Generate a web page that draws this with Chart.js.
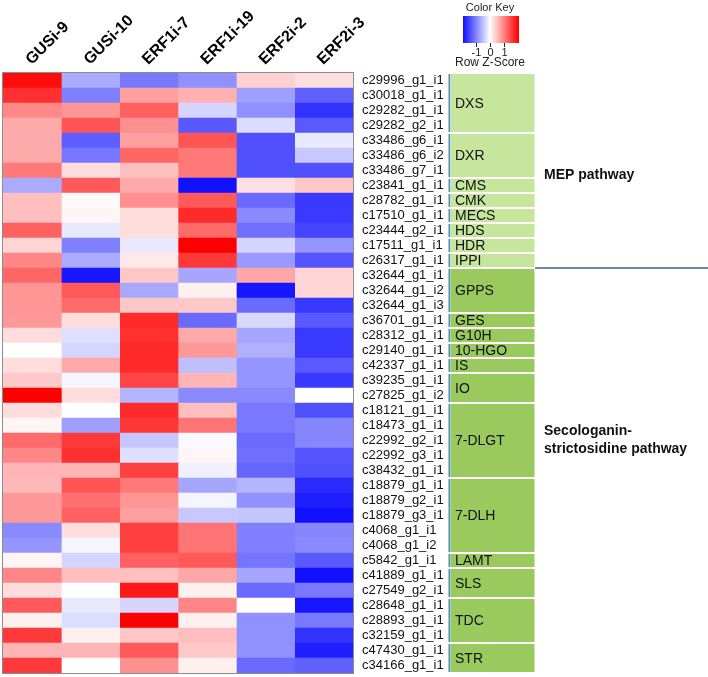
<!DOCTYPE html>
<html>
<head>
<meta charset="utf-8">
<script src="https://cdn.jsdelivr.net/npm/chart.js@4.4.1/dist/chart.umd.min.js"></script>
<style>
  body { margin: 0; background: #fff; }
</style>
</head>
<body>
<canvas id="heat" width="708" height="677"></canvas>
<script>
// columns (samples) and rows (transcripts)
const samples = ["GUSi-9", "GUSi-10", "ERF1i-7", "ERF1i-19", "ERF2i-2", "ERF2i-3"];
const genes = [
  "c29996_g1_i1", "c30018_g1_i1", "c29282_g1_i1", "c29282_g2_i1", "c33486_g6_i1",
  "c33486_g6_i2", "c33486_g7_i1", "c23841_g1_i1", "c28782_g1_i1", "c17510_g1_i1",
  "c23444_g2_i1", "c17511_g1_i1", "c26317_g1_i1", "c32644_g1_i1", "c32644_g1_i2",
  "c32644_g1_i3", "c36701_g1_i1", "c28312_g1_i1", "c29140_g1_i1", "c42337_g1_i1",
  "c39235_g1_i1", "c27825_g1_i2", "c18121_g1_i1", "c18473_g1_i1", "c22992_g2_i1",
  "c22992_g3_i1", "c38432_g1_i1", "c18879_g1_i1", "c18879_g2_i1", "c18879_g3_i1",
  "c4068_g1_i1", "c4068_g1_i2", "c5842_g1_i1", "c41889_g1_i1", "c27549_g2_i1",
  "c28648_g1_i1", "c28893_g1_i1", "c32159_g1_i1", "c47430_g1_i1", "c34166_g1_i1"
];

// row z-scores, one array per sample
const gusi9 = [1.9, 1.62, 0.93, 0.67, 0.67, 0.67, 1.05, -0.67, 0.5, 0.5, 1.25, 0.33, 0.95, 1.2, 0.83, 0.83, 0.8, 0.27, 0.0, 0.27,
  0.42, 2.0, 0.27, 0.08, 1.17, 0.95, 0.58, 0.55, 0.8, 0.8, -0.92, -0.83, 0.08, 0.95, 0.27, 1.3, 0.12, 1.55, 0.58, 1.55];
const gusi10 = [-0.67, -1.0, 0.83, 1.33, -1.26, -1.07, 0.27, 1.3, 0.05, 0.08, -0.18, -1.0, -0.67, -1.83, 1.3, 1.17, 0.27, -0.25, -0.33, 0.67,
  -0.08, 0.27, 0.0, -0.75, 1.55, 1.62, 0.58, 1.33, 1.12, 1.25, 0.27, -0.08, -0.33, 0.5, 0.0, -0.18, -0.27, 0.12, 0.58, 0.0];
const erf1i7 = [-1.05, 0.75, 1.25, 0.87, 0.75, 1.2, 0.5, 0.67, 0.87, 0.27, 0.27, -0.18, 0.18, 0.45, -0.68, 0.43, 1.67, 1.62, 1.67, 1.67,
  1.46, -0.58, 1.67, 1.58, -0.45, -0.25, 1.5, 1.05, 0.83, 0.75, 1.5, 1.5, 1.25, 0.5, 1.8, -0.33, 2.0, 0.45, 1.3, 0.87];
const erf1i19 = [-0.87, 0.62, -0.33, -1.3, 1.33, 1.05, 1.05, -1.87, 1.3, 1.67, 1.17, 2.0, 1.55, -0.7, 0.12, 0.43, -1.17, 0.67, 0.8, -0.5,
  0.58, -0.92, 0.5, 1.08, -0.05, 0.08, -0.12, -0.7, -0.08, -0.43, 1.08, 1.08, 1.3, 0.7, 0.12, 0.95, 0.12, 0.5, 0.42, 0.12];
const erf2i2 = [0.37, -0.75, -0.87, -0.27, -1.37, -1.37, -1.37, 0.25, -1.17, -0.92, -1.12, -0.33, -0.8, 0.7, -1.83, -1.17, -0.3, -0.7, -0.62, -0.83,
  -0.83, -0.92, -1.05, -1.05, -1.17, -1.12, -1.2, -0.58, -0.87, -0.45, -1.0, -1.0, -1.08, -0.7, -1.17, 0.0, -0.87, -0.87, -0.87, -1.17];
const erf2i3 = [0.26, -1.25, -1.6, -1.3, -0.18, -0.43, -1.37, 0.45, -1.55, -1.55, -1.46, -0.83, -1.33, 0.33, 0.33, -1.55, -1.3, -1.55, -1.55, -1.3,
  -1.55, 0.0, -1.37, -0.95, -0.95, -1.33, -1.37, -1.67, -1.75, -1.87, -0.95, -0.92, -1.3, -1.87, -1.05, -1.83, -1.05, -1.6, -1.75, -1.25];
const zscores = [gusi9, gusi10, erf1i7, erf1i19, erf2i2, erf2i3];

// gene groups: [name, first row, last row]
const mepGroups = [["DXS", 0, 3], ["DXR", 4, 6], ["CMS", 7, 7], ["CMK", 8, 8], ["MECS", 9, 9],
  ["HDS", 10, 10], ["HDR", 11, 11], ["IPPI", 12, 12]];
const secoGroups = [["GPPS", 13, 15], ["GES", 16, 16], ["G10H", 17, 17], ["10-HGO", 18, 18], ["IS", 19, 19],
  ["IO", 20, 21], ["7-DLGT", 22, 26], ["7-DLH", 27, 31], ["LAMT", 32, 32], ["SLS", 33, 34],
  ["TDC", 35, 37], ["STR", 38, 39]];
const keyTicks = [-1, 0, 1];

const FONT = "'Liberation Sans', Arial, sans-serif";

// blue - white - red, saturating at +-2
function zColor(v) {
  let t = Math.max(-1, Math.min(1, v / 2));
  if (t >= 0) {
    const c = Math.round(255 * (1 - t));
    return `rgb(255,${c},${c})`;
  }
  const c = Math.round(255 * (1 + t));
  return `rgb(${c},${c},255)`;
}

const datasets = zscores.map((col, i) => ({
  label: samples[i],
  data: genes.map(() => 1),
  backgroundColor: col.map(zColor),
  borderWidth: 0,
  barPercentage: 1,
  categoryPercentage: 1
}));

// annotations: border, gene groups, pathway labels, colour key
const extras = {
  id: "extras",
  afterDraw(chart) {
    const ctx = chart.ctx;
    const a = chart.chartArea;
    const ys = chart.scales.y;
    ctx.save();

    ctx.strokeStyle = "#8c8c8c";
    ctx.lineWidth = 1;
    ctx.strokeRect(a.left - 0.5, a.top - 0.5, a.right - a.left + 1, a.bottom - a.top + 1);

    const drawGroups = (groups, fill) => {
      groups.forEach(g => {
        const top = ys.getPixelForValue(g[1]) - 7.5 + 1;
        const bot = ys.getPixelForValue(g[2]) + 7.5 - 1;
        ctx.fillStyle = "#4f8cc4";
        ctx.fillRect(448.5, top, 1.8, bot - top);
        ctx.fillStyle = fill;
        ctx.fillRect(450.5, top, 84, bot - top);
        ctx.fillStyle = "#111";
        ctx.font = "14px " + FONT;
        ctx.textAlign = "left";
        ctx.textBaseline = "middle";
        ctx.fillText(g[0], 455, (top + bot) / 2 + 1);
      });
    };
    drawGroups(mepGroups, "#c6e69d");
    drawGroups(secoGroups, "#9ac95d");

    // pathway divider
    const divY = ys.getPixelForValue(12) + 7.5;
    ctx.strokeStyle = "#3f5f80";
    ctx.lineWidth = 1.5;
    ctx.beginPath();
    ctx.moveTo(535, divY);
    ctx.lineTo(708, divY);
    ctx.stroke();

    ctx.fillStyle = "#111";
    ctx.font = "bold 14px " + FONT;
    ctx.textAlign = "left";
    ctx.textBaseline = "middle";
    ctx.fillText("MEP pathway", 544, 175);
    ctx.fillText("Secologanin-", 544, 431);
    ctx.fillText("strictosidine pathway", 544, 449);

    // colour key
    const kx0 = 463, kx1 = 519, ky0 = 16, ky1 = 43;
    const zero = 490, unit = 14.3;
    for (let x = kx0; x < kx1; x++) {
      ctx.fillStyle = zColor((x + 0.5 - zero) / unit);
      ctx.fillRect(x, ky0, 1, ky1 - ky0);
    }
    ctx.strokeStyle = "#222";
    ctx.lineWidth = 1;
    ctx.font = "11px " + FONT;
    ctx.textAlign = "center";
    ctx.fillStyle = "#222";
    keyTicks.forEach(t => {
      const x = Math.round(zero + t * unit) + 0.5;
      ctx.beginPath();
      ctx.moveTo(x, ky1);
      ctx.lineTo(x, ky1 + 4);
      ctx.stroke();
      ctx.fillText(String(t), x, 53);
    });
    ctx.font = "11px " + FONT;
    ctx.fillText("Color Key", 490, 8);
    ctx.font = "12px " + FONT;
    ctx.fillText("Row Z-Score", 490, 63);
    ctx.restore();
  }
};

new Chart(document.getElementById("heat"), {
  type: "bar",
  data: { labels: genes, datasets: datasets },
  options: {
    indexAxis: "y",
    responsive: false,
    animation: false,
    devicePixelRatio: 1,
    layout: { padding: { left: 3, right: 255, top: 0, bottom: 4 } },
    plugins: { legend: { display: false }, tooltip: { enabled: false } },
    scales: {
      x: {
        type: "linear",
        position: "top",
        stacked: true,
        min: 0,
        max: 6,
        grid: { display: false, drawTicks: false },
        border: { display: false },
        afterBuildTicks: (scale) => {
          scale.ticks = samples.map((s, i) => ({ value: i + 0.5 }));
        },
        afterFit: (scale) => {
          scale.height = 73;
          scale.paddingLeft = 0;
          scale.paddingRight = 0;
        },
        ticks: {
          autoSkip: false,
          minRotation: 45,
          maxRotation: 45,
          padding: 4,
          labelOffset: 10,
          color: "#000",
          font: { family: FONT, size: 16, weight: "bold" },
          callback: (v, i) => samples[i]
        }
      },
      y: {
        position: "right",
        stacked: true,
        grid: { display: false, drawTicks: false },
        border: { display: false },
        afterFit: (scale) => {
          scale.width = 100;
          scale.paddingTop = 0;
          scale.paddingBottom = 0;
        },
        ticks: {
          autoSkip: false,
          padding: 9,
          color: "#111",
          font: { family: FONT, size: 13 }
        }
      }
    }
  },
  plugins: [extras]
});
</script>
</body>
</html>
